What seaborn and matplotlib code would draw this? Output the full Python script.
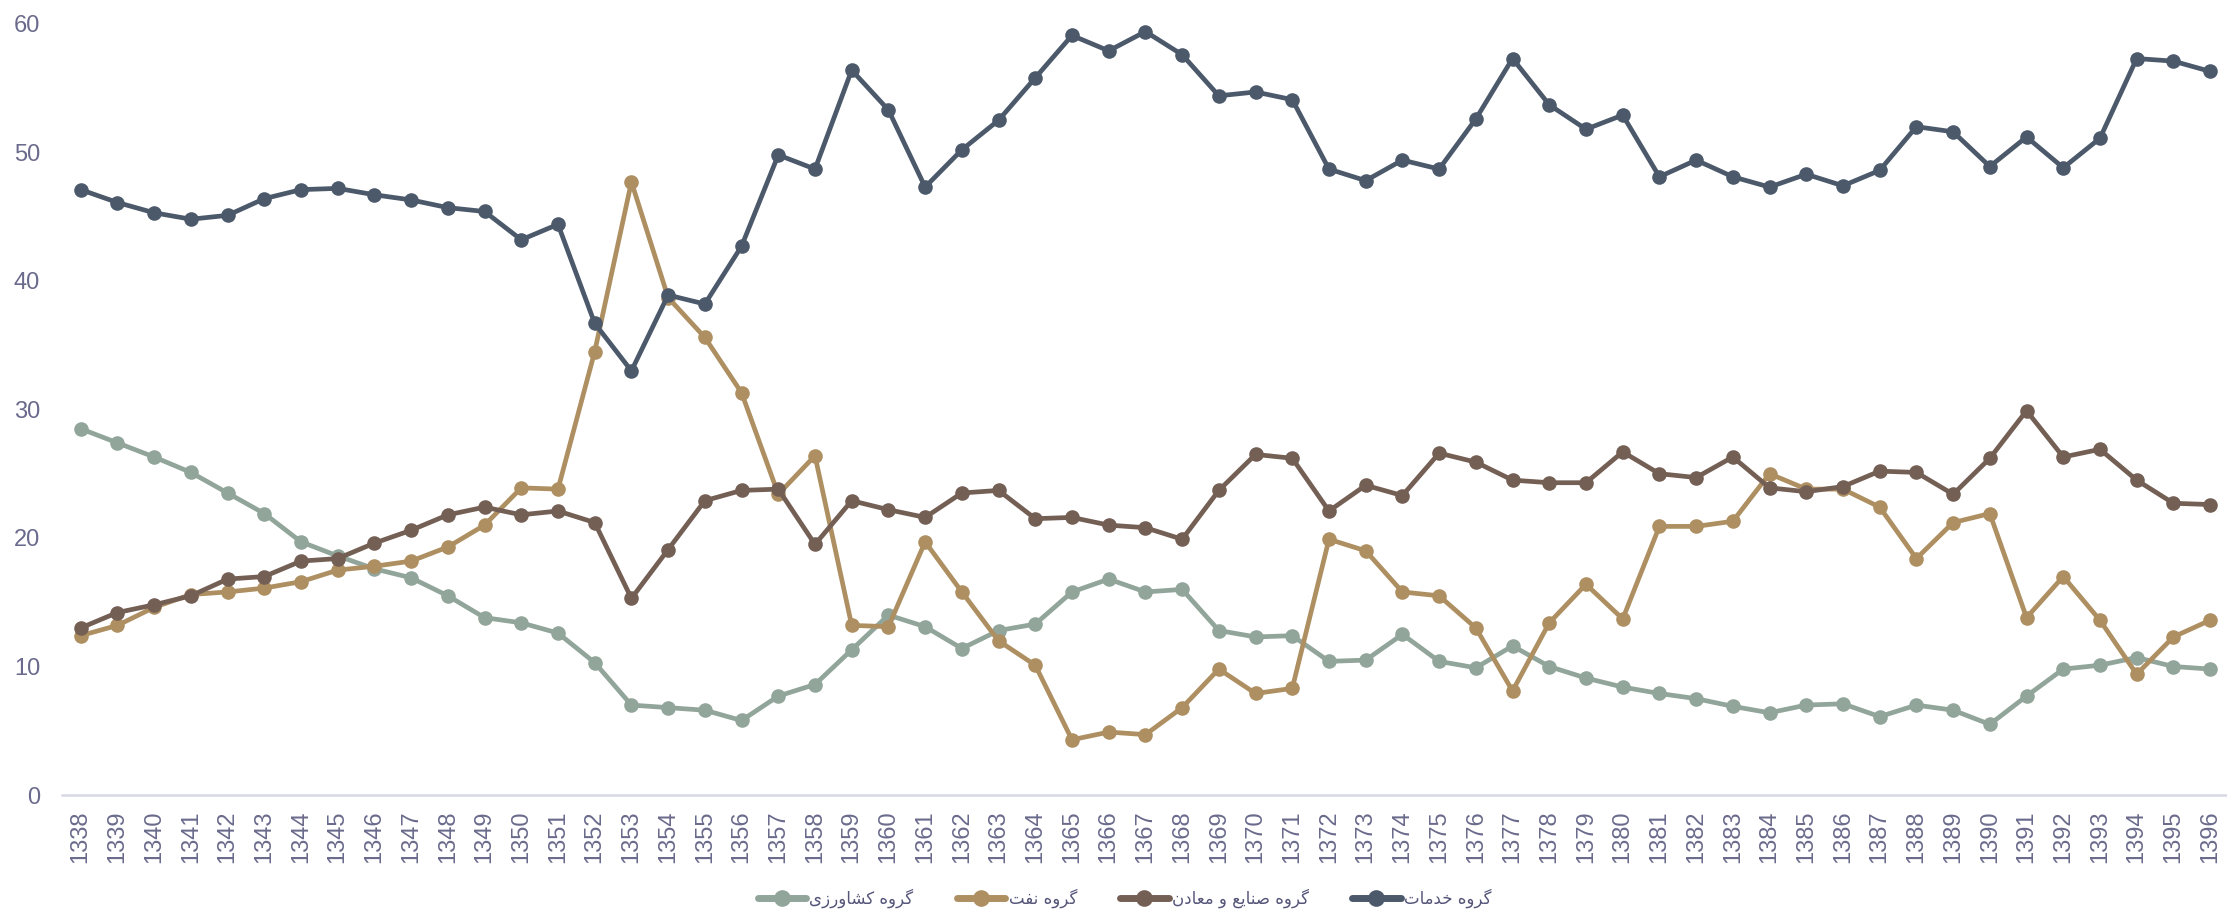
"""
  Sector shares of value added, 1338-1396
"""

import matplotlib
matplotlib.use("Agg")
import matplotlib.pyplot as plt
from matplotlib.lines import Line2D
import seaborn as sns
import pandas as pd

YEARS = list(range(1338, 1397))

AGRI = [28.5, 27.4, 26.3, 25.1, 23.5, 21.9, 19.7, 18.6, 17.6, 16.9, 15.5, 13.8, 13.4, 12.6,
        10.3, 7.0, 6.8, 6.6, 5.8, 7.7, 8.6, 11.3, 14.0, 13.1, 11.4, 12.8, 13.3, 15.8,
        16.8, 15.8, 16.0, 12.8, 12.3, 12.4, 10.4, 10.5, 12.5, 10.4, 9.9, 11.6, 10.0, 9.1, 8.4,
        7.9, 7.5, 6.9, 6.4, 7.0, 7.1, 6.1, 7.0, 6.6, 5.5, 7.7, 9.8, 10.1, 10.7, 10.0, 9.8]
OIL = [12.4, 13.2, 14.6, 15.6, 15.8, 16.1, 16.6, 17.5, 17.8, 18.2, 19.3, 21.0, 23.9, 23.8,
       34.5, 47.7, 38.7, 35.6, 31.3, 23.4, 26.4, 13.2, 13.1, 19.7, 15.8, 12.0, 10.1, 4.3,
       4.9, 4.7, 6.8, 9.8, 7.9, 8.3, 19.9, 19.0, 15.8, 15.5, 13.0, 8.1, 13.4, 16.4, 13.7,
       20.9, 20.9, 21.3, 25.0, 23.8, 23.8, 22.4, 18.4, 21.2, 21.9, 13.8, 17.0, 13.6, 9.4, 12.3, 13.6]
INDUSTRY = [13.0, 14.2, 14.8, 15.5, 16.8, 17.0, 18.2, 18.4, 19.6, 20.6, 21.8, 22.4, 21.8, 22.1,
            21.2, 15.3, 19.1, 22.9, 23.7, 23.8, 19.5, 22.9, 22.2, 21.6, 23.5, 23.7, 21.5, 21.6,
            21.0, 20.8, 19.9, 23.7, 26.5, 26.2, 22.1, 24.1, 23.3, 26.6, 25.9, 24.5, 24.3, 24.3, 26.7,
            25.0, 24.7, 26.3, 23.9, 23.6, 24.0, 25.2, 25.1, 23.4, 26.2, 29.9, 26.3, 26.9, 24.5, 22.7, 22.6]
SERVICES = [47.1, 46.1, 45.3, 44.8, 45.1, 46.4, 47.1, 47.2, 46.7, 46.3, 45.7, 45.4, 43.2, 44.4,
            36.7, 33.0, 38.9, 38.2, 42.7, 49.8, 48.7, 56.4, 53.3, 47.3, 50.2, 52.5, 55.8, 59.1,
            57.9, 59.4, 57.6, 54.4, 54.7, 54.1, 48.7, 47.8, 49.4, 48.7, 52.6, 57.3, 53.7, 51.8, 52.9,
            48.1, 49.4, 48.1, 47.3, 48.3, 47.4, 48.6, 52.0, 51.6, 48.9, 51.2, 48.8, 51.1, 57.3, 57.1, 56.3]

GROUPS = ["گروه کشاورزی", "گروه نفت", "گروه صنایع و معادن", "گروه خدمات"]
COLORS = ["#92a59a", "#ae8f62", "#745f55", "#4b596b"]

# isolated, final, initial, medial (right-joining letters have no initial/medial)
FORMS = {
  "ا": (0xFE8D, 0xFE8E, None, None),
  "ت": (0xFE95, 0xFE96, 0xFE97, 0xFE98),
  "خ": (0xFEA5, 0xFEA6, 0xFEA7, 0xFEA8),
  "د": (0xFEA9, 0xFEAA, None, None),
  "ر": (0xFEAD, 0xFEAE, None, None),
  "ز": (0xFEAF, 0xFEB0, None, None),
  "ش": (0xFEB5, 0xFEB6, 0xFEB7, 0xFEB8),
  "ص": (0xFEB9, 0xFEBA, 0xFEBB, 0xFEBC),
  "ع": (0xFEC9, 0xFECA, 0xFECB, 0xFECC),
  "ف": (0xFED1, 0xFED2, 0xFED3, 0xFED4),
  "م": (0xFEE1, 0xFEE2, 0xFEE3, 0xFEE4),
  "ن": (0xFEE5, 0xFEE6, 0xFEE7, 0xFEE8),
  "ه": (0xFEE9, 0xFEEA, 0xFEEB, 0xFEEC),
  "و": (0xFEED, 0xFEEE, None, None),
  "ی": (0xFBFC, 0xFBFD, 0xFBFE, 0xFBFF),
  "ک": (0xFB8E, 0xFB8F, 0xFB90, 0xFB91),
  "گ": (0xFB92, 0xFB93, 0xFB94, 0xFB95),
}


def shape(text):
  """ Join Persian letters and put them in visual order
  """
  out = []
  for i, ch in enumerate(text):
    if ch not in FORMS:
      out.append(ch)
      continue
    prev = text[i - 1] if i > 0 else ""
    nxt = text[i + 1] if i + 1 < len(text) else ""
    joins_prev = prev in FORMS and FORMS[prev][2] is not None
    joins_next = nxt in FORMS and FORMS[ch][2] is not None
    iso, fin, ini, med = FORMS[ch]
    if joins_prev and joins_next:
      code = med
    elif joins_prev:
      code = fin
    elif joins_next:
      code = ini
    else:
      code = iso
    out.append(chr(code))
  return "".join(reversed(out))


def main():
  sns.set_style("white")
  plt.rcParams["font.family"] = ["Liberation Sans", "DejaVu Sans"]

  rows = []
  for name, vals in zip(GROUPS, (AGRI, OIL, INDUSTRY, SERVICES)):
    for y, v in zip(YEARS, vals):
      rows.append([y, v, name])
  df = pd.DataFrame(rows, columns=["year", "share", "group"])

  fig = plt.figure(figsize=(22.27, 9.17), dpi=100)
  ax = fig.add_axes([0.028, 0.133, 0.972, 0.841])
  sns.lineplot(data=df, x="year", y="share", hue="group", hue_order=GROUPS,
               palette=dict(zip(GROUPS, COLORS)), marker="o", markersize=10.5,
               markeredgewidth=0, linewidth=3.4, legend=False, ax=ax)

  ax.set_xlim(YEARS[0] - 0.5, YEARS[-1] + 0.46)
  ax.set_ylim(0, 60)
  ax.set_xticks(YEARS)
  ax.set_xticklabels([str(y) for y in YEARS], rotation=90)
  ax.set_yticks(range(0, 61, 10))
  ax.set(xlabel="", ylabel="")
  ax.tick_params(axis="both", colors="#6a6a8c", labelsize=17, length=0)
  ax.tick_params(axis="x", pad=11)
  ax.tick_params(axis="y", pad=16)
  for s in ("top", "right", "left"):
    ax.spines[s].set_visible(False)
  ax.spines["bottom"].set_color("#d8d8e2")
  ax.spines["bottom"].set_linewidth(1.8)

  handles = [Line2D([], [], color=c, lw=5, marker="o", markersize=12, markeredgewidth=0)
             for c in COLORS]
  fig.legend(handles, [shape(g) for g in GROUPS], loc="center", bbox_to_anchor=(0.505, 0.02),
             ncol=4, frameon=False, handlelength=2.9, columnspacing=2.6, handletextpad=0.2,
             prop={"family": "DejaVu Sans", "size": 12}, labelcolor="#55557a")

  fig.savefig("out.png", dpi=100)


if __name__ == "__main__":
  main()
